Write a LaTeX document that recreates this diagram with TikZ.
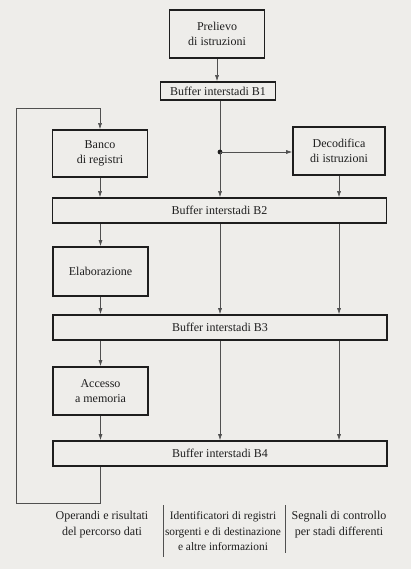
\documentclass[tikz,border=0pt]{standalone}
\usepackage{fontspec}
\setmainfont{Liberation Serif}
\usetikzlibrary{arrows.meta,positioning,calc}
\definecolor{scanpaper}{RGB}{238,237,234}
\definecolor{inkdark}{RGB}{30,30,30}
\definecolor{inkgray}{RGB}{80,80,80}
\tikzset{
  stagebox/.style={draw=inkdark, line width=1.7pt, align=center, inner sep=0pt,
    font=\fontsize{12}{14.5}\selectfont, text=inkdark},
  unitbox/.style={stagebox, minimum width=95pt, minimum height=48pt},
  bufbox/.style={stagebox, minimum width=334pt, minimum height=25pt},
  arr/.style={-{Latex[length=6pt,width=4pt]}, line width=0.6pt, inkgray},
  wire/.style={line width=0.6pt, inkgray},
  legend/.style={align=center, anchor=north, inner sep=0pt,
    font=\fontsize{12}{15.5}\selectfont, text=inkdark}
}

\begin{document}
\begin{tikzpicture}[x=1pt,y=-1pt]
  \fill[scanpaper] (0,0) rectangle (411,569);
  \useasboundingbox (0,0) rectangle (411,569);

  % stages and buffers
  \node[unitbox] (prel) at (217,34) {Prelievo\\di istruzioni};
  \node[bufbox, minimum width=115pt, minimum height=18pt] (b1) at (218,91) {Buffer interstadi B1};
  \node[unitbox, minimum height=47pt] (banco) at (100,153.5) {Banco\\di registri};
  \node[unitbox, minimum width=92pt] (decod) at (339,151) {Decodifica\\di istruzioni};
  \node[bufbox] (b2) at (219.5,210.5) {Buffer interstadi B2};
  \node[unitbox, minimum height=49pt] (elab) at (100.5,271.5) {Elaborazione};
  \node[bufbox] (b3) at (220,327.5) {Buffer interstadi B3};
  \node[unitbox] (acc) at (100.5,391) {Accesso\\a memoria};
  \node[bufbox] (b4) at (220,453.5) {Buffer interstadi B4};

  \coordinate (split) at (220,152);
  \coordinate (loopTL) at (16,108);
  \coordinate (loopBL) at (16,503);

  % connectors
  \draw[arr] (prel.south) -- (prel.south |- b1.north);
  \draw[wire] (b1.south -| split) -- (split);
  \fill[inkdark] (split) circle (2.4pt);
  \draw[arr] (split) -- (decod.west |- split);
  \draw[arr] (split) -- (split |- b2.north);
  \draw[arr] (banco.south) -- (banco.south |- b2.north);
  \draw[arr] (decod.south) -- (decod.south |- b2.north);
  \draw[arr] (b2.south -| elab.north) -- (elab.north);
  \draw[arr] (elab.south) -- (elab.south |- b3.north);
  \draw[arr] (b3.south -| acc.north) -- (acc.north);
  \draw[arr] (acc.south) -- (acc.south |- b4.north);
  \draw[arr] (b2.south -| split) -- (b3.north -| split);
  \draw[arr] (b3.south -| split) -- (b4.north -| split);
  \draw[arr] (b2.south -| decod.south) -- (b3.north -| decod.south);
  \draw[arr] (b3.south -| decod.south) -- (b4.north -| decod.south);
  % feedback loop
  \draw[arr] (b4.south -| banco.south) |- (loopBL) -- (loopTL) -| (banco.north);

  % legend
  \node[legend] (legdata) at (102,511) {Operandi e risultati\\del percorso dati};
  \node[legend, font=\fontsize{11.4}{15.5}\selectfont] (legid) at (223,511.5) {Identificatori di registri\\sorgenti e di destinazione\\e altre informazioni};
  \node[legend] (legctl) at (339,511) {Segnali di controllo\\per stadi differenti};
  \draw[wire] (163,505) -- (163,557);
  \draw[wire] (285,505) -- (285,553);
\end{tikzpicture}
\end{document}
